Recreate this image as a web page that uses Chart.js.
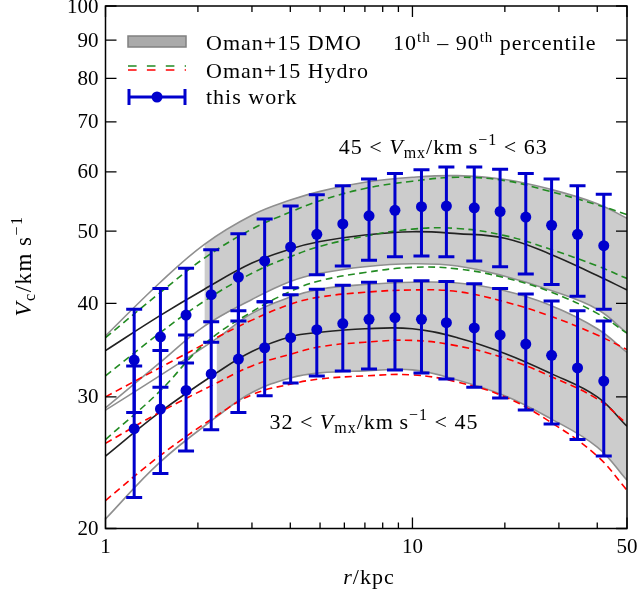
<!DOCTYPE html>
<html>
<head>
<meta charset="utf-8">
<script src="https://cdn.jsdelivr.net/npm/chart.js@4.4.1/dist/chart.umd.min.js"></script>
<style>
  html, body { margin: 0; padding: 0; background: #fff; }
</style>
</head>
<body>
<canvas id="vcChart" width="639" height="593"></canvas>
<script>
// radial bins of "this work"
const rBins = [1.24, 1.51, 1.83, 2.21, 2.71, 3.30, 4.01, 4.88, 5.93, 7.22, 8.77, 10.7, 12.9, 15.9, 19.3, 23.4, 28.4, 34.5, 42.0];

// this work, 45 < Vmx < 63
const upperV  = [33.6, 36.1, 38.6, 41.1, 43.4, 45.6, 47.6, 49.5, 51.1, 52.4, 53.3, 53.9, 54.0, 53.7, 53.1, 52.2, 50.9, 49.5, 47.8];
const upperHi = [39.3, 41.9, 44.6, 47.2, 49.6, 51.9, 54.0, 55.9, 57.5, 58.7, 59.7, 60.4, 60.9, 60.9, 60.5, 59.7, 58.7, 57.5, 56.0];
const upperLo = [28.6, 30.9, 33.3, 35.5, 37.9, 40.2, 42.0, 43.7, 44.9, 45.7, 46.2, 46.3, 46.2, 45.6, 44.8, 43.8, 42.4, 40.9, 39.3];

// this work, 32 < Vmx < 45
const lowerV  = [27.2, 28.9, 30.6, 32.2, 33.7, 34.9, 36.0, 36.9, 37.6, 38.1, 38.3, 38.1, 37.7, 37.1, 36.3, 35.3, 34.1, 32.8, 31.5];
const lowerHi = [33.0, 34.6, 36.3, 37.8, 39.1, 40.2, 41.1, 41.8, 42.3, 42.7, 42.9, 42.9, 42.8, 42.5, 41.9, 41.2, 40.3, 39.1, 37.9];
const lowerLo = [22.0, 23.7, 25.4, 27.1, 28.6, 30.1, 31.3, 32.0, 32.5, 32.7, 32.6, 32.3, 31.7, 30.9, 29.9, 28.8, 27.6, 26.3, 25.0];

// Oman+15 curves, upper bin
const upperCurveR  = [1, 1.5, 2.1, 3, 4, 5, 7, 10, 14, 20, 28, 40, 50];
const upperDmo90   = [36.2, 42.6, 48.0, 52.5, 55.0, 56.5, 58.1, 59.0, 59.3, 58.6, 56.9, 54.4, 52.0];
const upperDmo50   = [34.6, 38.5, 41.8, 45.3, 47.3, 48.4, 49.4, 49.9, 49.6, 48.9, 46.6, 43.6, 41.7];
const upperDmo10   = [29.0, 33.3, 37.3, 40.5, 42.8, 43.9, 44.8, 45.2, 44.9, 43.5, 41.7, 39.3, 36.5];
const upperHydro90 = [36.0, 41.3, 46.0, 50.3, 53.0, 54.9, 57.0, 58.3, 59.0, 58.4, 56.5, 54.2, 52.6];
const upperHydro50 = [32.0, 36.5, 40.3, 43.9, 46.2, 47.7, 49.2, 50.3, 50.4, 49.3, 47.3, 44.9, 43.2];
const upperHydro10 = [26.3, 30.5, 35.3, 39.0, 41.5, 42.9, 44.0, 44.7, 44.5, 43.3, 41.5, 38.8, 36.5];

// Oman+15 curves, lower bin
const lowerCurveR  = [1, 1.5, 2.3, 3, 4, 5, 7, 10, 14, 20, 28, 40, 50];
const lowerDmo90   = [28.8, 32.0, 35.9, 38.8, 40.8, 41.8, 42.4, 42.7, 42.6, 41.6, 39.8, 37.0, 34.4];
const lowerDmo50   = [25.0, 28.6, 32.3, 34.5, 36.1, 36.6, 37.0, 37.0, 36.0, 34.3, 32.3, 30.0, 27.4];
const lowerDmo10   = [20.6, 24.5, 28.2, 30.4, 31.8, 32.3, 32.5, 32.6, 31.6, 30.1, 28.1, 25.7, 23.2];
const lowerHydro90 = [30.0, 32.8, 36.0, 38.0, 39.9, 40.8, 41.4, 41.7, 41.5, 40.2, 38.5, 36.3, 34.7];
const lowerHydro50 = [26.0, 28.6, 31.3, 33.0, 34.2, 35.0, 35.5, 35.7, 35.1, 33.8, 32.0, 29.8, 27.6];
const lowerHydro10 = [21.8, 25.0, 28.3, 30.2, 31.2, 31.7, 32.0, 32.1, 31.4, 30.0, 27.8, 25.0, 22.5];

// shaded percentile band only drawn from these radii outward
const upperBandFrom = 2.1;
const lowerBandFrom = 2.3;

const xTicks = [1, 2, 3, 4, 5, 6, 7, 8, 9, 10, 20, 30, 40, 50];
const xLabeled = [1, 10, 50];
const yTicks = [20, 30, 40, 50, 60, 70, 80, 90, 100];

const SERIF = '"Liberation Serif", "DejaVu Serif", serif';
const BLUE = '#0000cd';
const GRAY = '#8f8f8f';
const DARK = '#222222';
const GREEN = '#228b22';
const RED = '#ff0000';
const BAND = '#cccccc';

Chart.defaults.font.family = SERIF;
Chart.defaults.color = '#000';

function pts(rs, vs) {
  return rs.map((r, i) => ({ x: r, y: vs[i] }));
}

function font(size, italic) {
  return (italic ? 'italic ' : '') + size + 'px ' + SERIF;
}

// parts: [text, size, italic, dy]; spacing = extra px between letters
function drawRich(ctx, parts, x, y, align, spacing) {
  ctx.letterSpacing = (spacing || 0) + 'px';
  let w = 0;
  parts.forEach(p => { ctx.font = font(p[1], p[2]); w += ctx.measureText(p[0]).width; });
  let cx = align === 'center' ? x - w / 2 : x;
  ctx.textAlign = 'left';
  ctx.textBaseline = 'alphabetic';
  parts.forEach(p => {
    ctx.font = font(p[1], p[2]);
    ctx.fillText(p[0], cx, y + (p[3] || 0));
    cx += ctx.measureText(p[0]).width;
  });
  ctx.letterSpacing = '0px';
}

function curve(rs, vs, color, dashed) {
  return {
    data: pts(rs, vs),
    borderColor: color,
    borderWidth: 1.6,
    borderDash: dashed ? [7, 4.5] : [],
    pointRadius: 0,
    fill: false,
    order: dashed ? 1 : 2
  };
}

function bandEdge(rs, vs, from, fill) {
  return {
    data: pts(rs, vs).filter(p => p.x >= from),
    borderWidth: 0,
    borderColor: 'rgba(0,0,0,0)',
    backgroundColor: BAND,
    pointRadius: 0,
    fill: fill,
    order: 3
  };
}

function markers(vs, lo, hi) {
  return {
    data: pts(rBins, vs),
    errLo: lo,
    errHi: hi,
    showLine: false,
    borderColor: BLUE,
    pointBackgroundColor: BLUE,
    pointBorderWidth: 0,
    pointRadius: 5.5,
    order: 0
  };
}

const errorBars = {
  id: 'errorBars',
  beforeDatasetDraw(chart, args) {
    const ds = chart.data.datasets[args.index];
    if (!ds.errLo) return;
    const { ctx, scales: { x, y } } = chart;
    ctx.save();
    ctx.strokeStyle = BLUE;
    ctx.lineWidth = 3;
    ds.data.forEach((p, i) => {
      const px = x.getPixelForValue(p.x);
      const top = y.getPixelForValue(ds.errHi[i]);
      const bot = y.getPixelForValue(ds.errLo[i]);
      ctx.beginPath();
      ctx.moveTo(px, top); ctx.lineTo(px, bot);
      ctx.moveTo(px - 8, top); ctx.lineTo(px + 8, top);
      ctx.moveTo(px - 8, bot); ctx.lineTo(px + 8, bot);
      ctx.stroke();
    });
    ctx.restore();
  }
};

const frame = {
  id: 'frame',
  afterDraw(chart) {
    const { ctx, chartArea: a, scales: { x, y } } = chart;
    ctx.save();
    ctx.strokeStyle = '#000';
    ctx.lineWidth = 1.5;
    ctx.strokeRect(a.left, a.top, a.right - a.left, a.bottom - a.top);
    ctx.lineWidth = 1.3;
    ctx.beginPath();
    yTicks.forEach(v => {
      const py = y.getPixelForValue(v);
      ctx.moveTo(a.left, py); ctx.lineTo(a.left + 11, py);
      ctx.moveTo(a.right, py); ctx.lineTo(a.right - 11, py);
    });
    xTicks.forEach(r => {
      const px = x.getPixelForValue(r);
      const len = xLabeled.includes(r) ? 11 : 6;
      ctx.moveTo(px, a.bottom); ctx.lineTo(px, a.bottom - len);
      ctx.moveTo(px, a.top); ctx.lineTo(px, a.top + len);
    });
    ctx.stroke();

    // tick labels
    ctx.fillStyle = '#000';
    ctx.font = font(21);
    ctx.textAlign = 'right';
    ctx.textBaseline = 'middle';
    yTicks.forEach(v => ctx.fillText(String(v), a.left - 7, y.getPixelForValue(v) + 1));
    ctx.textAlign = 'center';
    ctx.textBaseline = 'top';
    xLabeled.forEach(r => ctx.fillText(String(r), x.getPixelForValue(r), a.bottom + 8));

    // axis titles
    drawRich(ctx, [['r', 22, true], ['/kpc', 22]], 369, 584, 'center', 1);
    ctx.save();
    ctx.translate(31, 266);
    ctx.rotate(-Math.PI / 2);
    drawRich(ctx, [['V', 23, true], ['c', 16, false, 4], ['/km\u2009s', 23], ['\u22121', 16, false, -9]], 0, 0, 'center', 1.5);
    ctx.restore();

    // bin annotations
    const binLabel = (lo, hi) => [[lo + ' < ', 22], ['V', 22, true], ['mx', 16, false, 4], ['/km\u2009s', 22], ['\u22121', 16, false, -9], [' < ' + hi, 22]];
    drawRich(ctx, binLabel(45, 63), x.getPixelForValue(12.6), y.getPixelForValue(63.4), 'center', 1);
    drawRich(ctx, binLabel(32, 45), x.getPixelForValue(7.49), y.getPixelForValue(27.2), 'center', 1);

    // legend
    ctx.fillStyle = '#aaaaaa';
    ctx.strokeStyle = '#808080';
    ctx.lineWidth = 1.5;
    ctx.fillRect(128, 36, 58, 11);
    ctx.strokeRect(128, 36, 58, 11);
    ctx.fillStyle = '#000';
    drawRich(ctx, [['Oman+15 DMO', 22]], 206, 50, 'left', 1);
    drawRich(ctx, [['10', 22], ['th', 15, false, -8], [' \u2013 90', 22], ['th', 15, false, -8], [' percentile', 22]], 393, 50, 'left', 1);

    ctx.lineWidth = 1.6;
    ctx.setLineDash([8.6, 10.3]);
    ctx.strokeStyle = GREEN;
    ctx.beginPath(); ctx.moveTo(128, 66); ctx.lineTo(186, 66); ctx.stroke();
    ctx.strokeStyle = RED;
    ctx.beginPath(); ctx.moveTo(128, 70); ctx.lineTo(186, 70); ctx.stroke();
    ctx.setLineDash([]);
    drawRich(ctx, [['Oman+15 Hydro', 22]], 206, 78, 'left', 1);

    ctx.strokeStyle = BLUE;
    ctx.lineWidth = 3;
    ctx.beginPath();
    ctx.moveTo(128, 97); ctx.lineTo(186, 97);
    ctx.moveTo(129, 89); ctx.lineTo(129, 105);
    ctx.moveTo(185, 89); ctx.lineTo(185, 105);
    ctx.stroke();
    ctx.fillStyle = BLUE;
    ctx.beginPath(); ctx.arc(157, 97, 5.5, 0, Math.PI * 2); ctx.fill();
    ctx.fillStyle = '#000';
    drawRich(ctx, [['this work', 22]], 206, 104, 'left', 1);
    ctx.restore();
  }
};

const datasets = [
  markers(upperV, upperLo, upperHi),
  markers(lowerV, lowerLo, lowerHi),
  curve(upperCurveR, upperHydro90, GREEN, true),
  curve(upperCurveR, upperHydro50, GREEN, true),
  curve(upperCurveR, upperHydro10, GREEN, true),
  curve(lowerCurveR, lowerHydro90, RED, true),
  curve(lowerCurveR, lowerHydro50, RED, true),
  curve(lowerCurveR, lowerHydro10, RED, true),
  curve(upperCurveR, upperDmo90, GRAY, false),
  curve(upperCurveR, upperDmo50, DARK, false),
  curve(upperCurveR, upperDmo10, GRAY, false),
  curve(lowerCurveR, lowerDmo90, GRAY, false),
  curve(lowerCurveR, lowerDmo50, DARK, false),
  curve(lowerCurveR, lowerDmo10, GRAY, false),
  bandEdge(upperCurveR, upperDmo90, upperBandFrom, '+1'),
  bandEdge(upperCurveR, upperDmo10, upperBandFrom, false),
  bandEdge(lowerCurveR, lowerDmo90, lowerBandFrom, '+1'),
  bandEdge(lowerCurveR, lowerDmo10, lowerBandFrom, false)
];

new Chart(document.getElementById('vcChart'), {
  type: 'line',
  data: { datasets: datasets },
  options: {
    responsive: false,
    devicePixelRatio: 1,
    animation: false,
    layout: { autoPadding: false, padding: { left: 0, right: 12, top: 6, bottom: 0 } },
    plugins: { legend: { display: false }, tooltip: { enabled: false } },
    elements: { line: { tension: 0.4 } },
    scales: {
      x: {
        type: 'logarithmic',
        min: 1,
        max: 50,
        grid: { display: false, drawTicks: false },
        border: { display: false },
        ticks: { display: false },
        afterFit: s => { s.height = 64.5; }
      },
      y: {
        type: 'logarithmic',
        min: 20,
        max: 100,
        grid: { display: false, drawTicks: false },
        border: { display: false },
        ticks: { display: false },
        afterFit: s => { s.width = 105.5; }
      }
    }
  },
  plugins: [errorBars, frame]
});
</script>
</body>
</html>
